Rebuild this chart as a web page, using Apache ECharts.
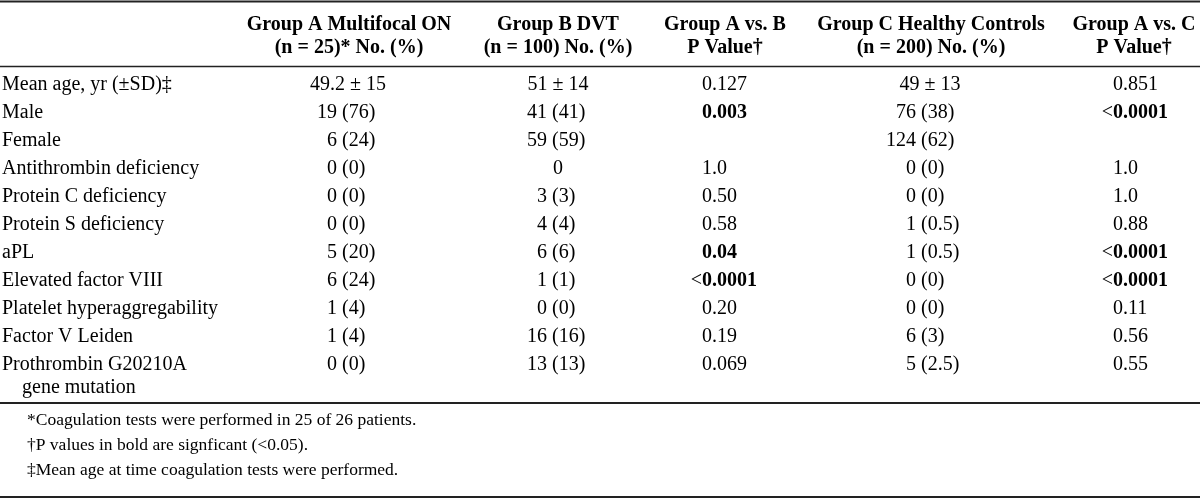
<!DOCTYPE html>
<html><head><meta charset="utf-8">
<script src="https://cdn.jsdelivr.net/npm/echarts@6/dist/echarts.min.js"></script>
<style>html,body{margin:0;padding:0;background:#fff}#c{width:1200px;height:500px}</style>
</head><body><div id="c"></div>
<script>
// ---------- data ----------
const rowLabels = [
  'Mean age, yr (±SD)‡', 'Male', 'Female', 'Antithrombin deficiency',
  'Protein C deficiency', 'Protein S deficiency', 'aPL', 'Elevated factor VIII',
  'Platelet hyperaggregability', 'Factor V Leiden', 'Prothrombin G20210A\ngene mutation'
];
const headerLine1 = ['Group A Multifocal ON', 'Group B DVT', 'Group A vs. B', 'Group C Healthy Controls', 'Group A vs. C'];
const headerLine2 = ['(n = 25)* No. (%)', '(n = 100) No. (%)', 'P Value†', '(n = 200) No. (%)', 'P Value†'];
const groupA = ['49.2 ± 15', '19 (76)', '6 (24)', '0 (0)', '0 (0)', '0 (0)', '5 (20)', '6 (24)', '1 (4)', '1 (4)', '0 (0)'];
const groupB = ['51 ± 14', '41 (41)', '59 (59)', '0', '3 (3)', '4 (4)', '6 (6)', '1 (1)', '0 (0)', '16 (16)', '13 (13)'];
const pAB    = ['0.127', '0.003', '', '1.0', '0.50', '0.58', '0.04', '<0.0001', '0.20', '0.19', '0.069'];
const pABSig = [0, 1, 0, 0, 0, 0, 1, 1, 0, 0, 0];
const groupC = ['49 ± 13', '76 (38)', '124 (62)', '0 (0)', '0 (0)', '1 (0.5)', '1 (0.5)', '0 (0)', '0 (0)', '6 (3)', '5 (2.5)'];
const pAC    = ['0.851', '<0.0001', '', '1.0', '1.0', '0.88', '<0.0001', '<0.0001', '0.11', '0.56', '0.55'];
const pACSig = [0, 1, 0, 0, 0, 0, 1, 1, 0, 0, 0];
const footnotes = [
  '*Coagulation tests were performed in 25 of 26 patients.',
  '†P values in bold are signficant (<0.05).',
  '‡Mean age at time coagulation tests were performed.'
];

// ---------- layout / style ----------
const FONT = '"Liberation Serif","Times New Roman",Times,serif';
const INK = '#000';
const RULE = '#222';
const BODY_SIZE = 20, HEAD_SIZE = 20, NOTE_SIZE = 17.5;
const colLayout = [
  { mode: 'split', anchor: 337, center: 348, head: 349 },
  { mode: 'split', anchor: 547, center: 558, head: 558 },
  { mode: 'p', anchor: 702, head: 725 },
  { mode: 'split', anchor: 916, center: 930, head: 931 },
  { mode: 'p', anchor: 1113, head: 1134 }
];
const colValues = [groupA, groupB, pAB, groupC, pAC];
const colSig = [null, null, pABSig, null, pACSig];
const LABEL_X = 2, INDENT_X = 22, WRAP_DY = 23;

function txt(x, y, text, align, weight, size) {
  return { type: 'text', x: x, y: y, style: {
    text: text, fill: INK, fontFamily: FONT, fontSize: size || BODY_SIZE,
    fontWeight: weight || 'normal', align: align, verticalAlign: 'middle' } };
}

const cellData = [];
colValues.forEach((arr, c) => arr.forEach((v, r) => { if (v !== '') cellData.push([c, r]); }));
const labelData = rowLabels.map((_, r) => [0, r]);
const headData = headerLine1.map((_, c) => [c, 0]);

function renderCell(params, api) {
  const c = api.value(0), r = api.value(1);
  const L = colLayout[c];
  const text = colValues[c][r];
  const y = api.coord([0, r])[1];
  const children = [];
  if (L.mode === 'split') {
    const sp = text.indexOf(' ');
    if (text.indexOf('±') >= 0 || sp < 0) {
      children.push(txt(api.coord([L.center, r])[0], y, text, 'center'));
    } else {
      const ax = api.coord([L.anchor, r])[0];
      children.push(txt(ax, y, text.slice(0, sp), 'right'));
      children.push(txt(ax, y, text.slice(sp), 'left'));
    }
  } else {
    const ax = api.coord([L.anchor, r])[0];
    let num = text;
    if (text.charAt(0) === '<') { children.push(txt(ax, y, '<', 'right')); num = text.slice(1); }
    children.push(txt(ax, y, num, 'left', colSig[c][r] ? 'bold' : 'normal'));
  }
  return { type: 'group', children: children };
}

function renderLabel(params, api) {
  const r = api.value(1);
  const y = api.coord([0, r])[1];
  const lines = rowLabels[r].split('\n');
  return { type: 'group', children: lines.map((s, i) =>
    txt(api.coord([i === 0 ? LABEL_X : INDENT_X, r])[0], y + i * WRAP_DY, s, 'left')) };
}

function renderHead(params, api) {
  const c = api.value(0);
  const x = api.coord([colLayout[c].head, 0])[0];
  const top = params.coordSys.y;
  return { type: 'group', children: [
    txt(x, top - 46, headerLine1[c], 'center', 'bold', HEAD_SIZE),
    txt(x, top - 23, headerLine2[c], 'center', 'bold', HEAD_SIZE)
  ] };
}

function rule(y, w) {
  return { type: 'line', shape: { x1: 0, y1: y, x2: 1200, y2: y }, style: { stroke: RULE, lineWidth: w } };
}

const chart = echarts.init(document.getElementById('c'), null, { renderer: 'canvas' });
chart.setOption({
  backgroundColor: '#fff',
  animation: false,
  grid: { left: 0, right: 0, top: 71, height: 308 },
  xAxis: { type: 'value', min: 0, max: 1200, show: false },
  yAxis: { type: 'category', data: rowLabels, inverse: true, show: false },
  series: [
    { type: 'custom', name: 'cells', data: cellData, renderItem: renderCell, clip: false, silent: true },
    { type: 'custom', name: 'labels', data: labelData, renderItem: renderLabel, clip: false, silent: true },
    { type: 'custom', name: 'header', data: headData, renderItem: renderHead, clip: false, silent: true }
  ],
  graphic: [
    rule(1.5, 2), rule(66.5, 1.5), rule(403, 2), rule(497, 2)
  ].concat(footnotes.map((f, i) => ({
    type: 'text', x: 27, y: 420 + i * 25,
    style: { text: f, fill: INK, fontFamily: FONT, fontSize: NOTE_SIZE, verticalAlign: 'middle' }
  })))
});
</script></body></html>
